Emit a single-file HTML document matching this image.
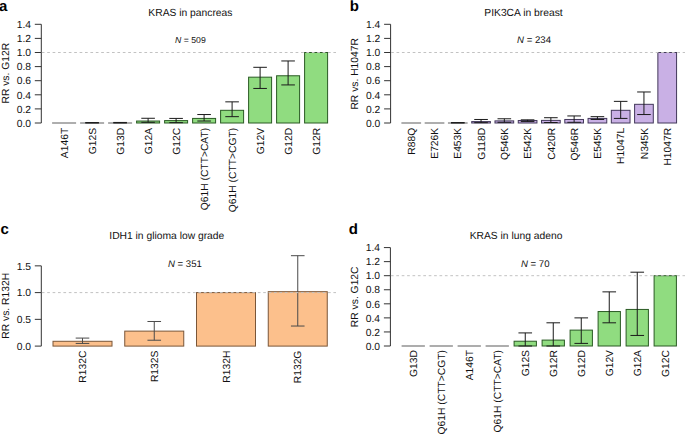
<!DOCTYPE html>
<html><head><meta charset="utf-8"><style>
html,body{margin:0;padding:0;background:#fff;width:685px;height:434px;overflow:hidden}
svg{display:block}
text{font-family:'Liberation Sans',sans-serif;text-rendering:geometricPrecision}
</style></head><body>
<svg width="685" height="434" viewBox="0 0 685 434">
<rect width="685" height="434" fill="#fff"/>
<text x="-1" y="10.7" font-size="15" text-anchor="start" fill="#000" font-weight="bold">a</text>
<text x="190.4" y="15.8" font-size="10.3" text-anchor="middle" fill="#111">KRAS in pancreas</text>
<text x="175.1" y="43" font-size="8.7" text-anchor="start" fill="#111"><tspan font-style="italic">N</tspan> = 509</text>
<line x1="41.3" y1="24.3" x2="41.3" y2="123" stroke="#333" stroke-width="1"/>
<line x1="34.8" y1="123" x2="41.3" y2="123" stroke="#333" stroke-width="1"/>
<text x="31" y="126.7" font-size="10.3" text-anchor="end" fill="#111">0.0</text>
<line x1="34.8" y1="108.9" x2="41.3" y2="108.9" stroke="#333" stroke-width="1"/>
<text x="31" y="112.6" font-size="10.3" text-anchor="end" fill="#111">0.2</text>
<line x1="34.8" y1="94.8" x2="41.3" y2="94.8" stroke="#333" stroke-width="1"/>
<text x="31" y="98.5" font-size="10.3" text-anchor="end" fill="#111">0.4</text>
<line x1="34.8" y1="80.7" x2="41.3" y2="80.7" stroke="#333" stroke-width="1"/>
<text x="31" y="84.4" font-size="10.3" text-anchor="end" fill="#111">0.6</text>
<line x1="34.8" y1="66.6" x2="41.3" y2="66.6" stroke="#333" stroke-width="1"/>
<text x="31" y="70.3" font-size="10.3" text-anchor="end" fill="#111">0.8</text>
<line x1="34.8" y1="52.5" x2="41.3" y2="52.5" stroke="#333" stroke-width="1"/>
<text x="31" y="56.2" font-size="10.3" text-anchor="end" fill="#111">1.0</text>
<line x1="34.8" y1="38.4" x2="41.3" y2="38.4" stroke="#333" stroke-width="1"/>
<text x="31" y="42.1" font-size="10.3" text-anchor="end" fill="#111">1.2</text>
<line x1="34.8" y1="24.3" x2="41.3" y2="24.3" stroke="#333" stroke-width="1"/>
<text x="31" y="28" font-size="10.3" text-anchor="end" fill="#111">1.4</text>
<text x="9" y="73.2" font-size="10.3" text-anchor="middle" fill="#111" transform="rotate(-90 9 73.2)">RR vs. G12R</text>
<line x1="52.1" y1="123" x2="76.1" y2="123" stroke="#777" stroke-width="1.2"/>
<text x="67.8" y="127.8" font-size="10.3" text-anchor="end" fill="#111" transform="rotate(-90 67.8 127.8)">A146T</text>
<line x1="80.1" y1="123" x2="104.1" y2="123" stroke="#777" stroke-width="1.2"/>
<line x1="92.1" y1="122.58" x2="92.1" y2="123" stroke="#1a1a1a" stroke-width="1"/>
<line x1="85.3" y1="122.58" x2="98.9" y2="122.58" stroke="#1a1a1a" stroke-width="1"/>
<line x1="85.3" y1="123" x2="98.9" y2="123" stroke="#1a1a1a" stroke-width="1"/>
<text x="95.8" y="127.8" font-size="10.3" text-anchor="end" fill="#111" transform="rotate(-90 95.8 127.8)">G12S</text>
<line x1="108.1" y1="123" x2="132.1" y2="123" stroke="#777" stroke-width="1.2"/>
<line x1="120.1" y1="122.44" x2="120.1" y2="123" stroke="#1a1a1a" stroke-width="1"/>
<line x1="113.3" y1="122.44" x2="126.9" y2="122.44" stroke="#1a1a1a" stroke-width="1"/>
<line x1="113.3" y1="123" x2="126.9" y2="123" stroke="#1a1a1a" stroke-width="1"/>
<text x="123.8" y="127.8" font-size="10.3" text-anchor="end" fill="#111" transform="rotate(-90 123.8 127.8)">G13D</text>
<rect x="136.6" y="121.03" width="23" height="1.97" fill="#90dc80" stroke="#2a5a24" stroke-width="1"/>
<line x1="148.1" y1="118.28" x2="148.1" y2="122.3" stroke="#1a1a1a" stroke-width="1"/>
<line x1="141.3" y1="118.28" x2="154.9" y2="118.28" stroke="#1a1a1a" stroke-width="1"/>
<line x1="141.3" y1="122.3" x2="154.9" y2="122.3" stroke="#1a1a1a" stroke-width="1"/>
<text x="151.8" y="127.8" font-size="10.3" text-anchor="end" fill="#111" transform="rotate(-90 151.8 127.8)">G12A</text>
<rect x="164.6" y="120.6" width="23" height="2.4" fill="#90dc80" stroke="#2a5a24" stroke-width="1"/>
<line x1="176.1" y1="118.42" x2="176.1" y2="122.65" stroke="#1a1a1a" stroke-width="1"/>
<line x1="169.3" y1="118.42" x2="182.9" y2="118.42" stroke="#1a1a1a" stroke-width="1"/>
<line x1="169.3" y1="122.65" x2="182.9" y2="122.65" stroke="#1a1a1a" stroke-width="1"/>
<text x="179.8" y="127.8" font-size="10.3" text-anchor="end" fill="#111" transform="rotate(-90 179.8 127.8)">G12C</text>
<rect x="192.6" y="118.42" width="23" height="4.58" fill="#90dc80" stroke="#2a5a24" stroke-width="1"/>
<line x1="204.1" y1="114.54" x2="204.1" y2="121.03" stroke="#1a1a1a" stroke-width="1"/>
<line x1="197.3" y1="114.54" x2="210.9" y2="114.54" stroke="#1a1a1a" stroke-width="1"/>
<line x1="197.3" y1="121.03" x2="210.9" y2="121.03" stroke="#1a1a1a" stroke-width="1"/>
<text x="207.8" y="127.8" font-size="10.3" text-anchor="end" fill="#111" transform="rotate(-90 207.8 127.8)">Q61H (CTT&gt;CAT)</text>
<rect x="220.6" y="110.31" width="23" height="12.69" fill="#90dc80" stroke="#2a5a24" stroke-width="1"/>
<line x1="232.1" y1="101.85" x2="232.1" y2="116.66" stroke="#1a1a1a" stroke-width="1"/>
<line x1="225.3" y1="101.85" x2="238.9" y2="101.85" stroke="#1a1a1a" stroke-width="1"/>
<line x1="225.3" y1="116.66" x2="238.9" y2="116.66" stroke="#1a1a1a" stroke-width="1"/>
<text x="235.8" y="127.8" font-size="10.3" text-anchor="end" fill="#111" transform="rotate(-90 235.8 127.8)">Q61H (CTT&gt;CGT)</text>
<rect x="248.6" y="77.17" width="23" height="45.83" fill="#90dc80" stroke="#2a5a24" stroke-width="1"/>
<line x1="260.1" y1="67.31" x2="260.1" y2="88.45" stroke="#1a1a1a" stroke-width="1"/>
<line x1="253.3" y1="67.31" x2="266.9" y2="67.31" stroke="#1a1a1a" stroke-width="1"/>
<line x1="253.3" y1="88.45" x2="266.9" y2="88.45" stroke="#1a1a1a" stroke-width="1"/>
<text x="263.8" y="127.8" font-size="10.3" text-anchor="end" fill="#111" transform="rotate(-90 263.8 127.8)">G12V</text>
<rect x="276.6" y="75.77" width="23" height="47.23" fill="#90dc80" stroke="#2a5a24" stroke-width="1"/>
<line x1="288.1" y1="60.96" x2="288.1" y2="84.93" stroke="#1a1a1a" stroke-width="1"/>
<line x1="281.3" y1="60.96" x2="294.9" y2="60.96" stroke="#1a1a1a" stroke-width="1"/>
<line x1="281.3" y1="84.93" x2="294.9" y2="84.93" stroke="#1a1a1a" stroke-width="1"/>
<text x="291.8" y="127.8" font-size="10.3" text-anchor="end" fill="#111" transform="rotate(-90 291.8 127.8)">G12D</text>
<rect x="304.6" y="52.5" width="23" height="70.5" fill="#90dc80" stroke="#2a5a24" stroke-width="1"/>
<text x="319.8" y="127.8" font-size="10.3" text-anchor="end" fill="#111" transform="rotate(-90 319.8 127.8)">G12R</text>
<line x1="41.8" y1="52.5" x2="336" y2="52.5" stroke="#c2c2c2" stroke-width="1" stroke-dasharray="2.7 2.7"/>
<text x="349.7" y="10.7" font-size="15" text-anchor="start" fill="#000" font-weight="bold">b</text>
<text x="523.5" y="15.8" font-size="10.3" text-anchor="middle" fill="#111">PIK3CA in breast</text>
<text x="517.1" y="42.7" font-size="9.6" text-anchor="start" fill="#111"><tspan font-style="italic">N</tspan> = 234</text>
<line x1="390.6" y1="24.3" x2="390.6" y2="123" stroke="#333" stroke-width="1"/>
<line x1="384.1" y1="123" x2="390.6" y2="123" stroke="#333" stroke-width="1"/>
<text x="380.3" y="126.7" font-size="10.3" text-anchor="end" fill="#111">0.0</text>
<line x1="384.1" y1="108.9" x2="390.6" y2="108.9" stroke="#333" stroke-width="1"/>
<text x="380.3" y="112.6" font-size="10.3" text-anchor="end" fill="#111">0.2</text>
<line x1="384.1" y1="94.8" x2="390.6" y2="94.8" stroke="#333" stroke-width="1"/>
<text x="380.3" y="98.5" font-size="10.3" text-anchor="end" fill="#111">0.4</text>
<line x1="384.1" y1="80.7" x2="390.6" y2="80.7" stroke="#333" stroke-width="1"/>
<text x="380.3" y="84.4" font-size="10.3" text-anchor="end" fill="#111">0.6</text>
<line x1="384.1" y1="66.6" x2="390.6" y2="66.6" stroke="#333" stroke-width="1"/>
<text x="380.3" y="70.3" font-size="10.3" text-anchor="end" fill="#111">0.8</text>
<line x1="384.1" y1="52.5" x2="390.6" y2="52.5" stroke="#333" stroke-width="1"/>
<text x="380.3" y="56.2" font-size="10.3" text-anchor="end" fill="#111">1.0</text>
<line x1="384.1" y1="38.4" x2="390.6" y2="38.4" stroke="#333" stroke-width="1"/>
<text x="380.3" y="42.1" font-size="10.3" text-anchor="end" fill="#111">1.2</text>
<line x1="384.1" y1="24.3" x2="390.6" y2="24.3" stroke="#333" stroke-width="1"/>
<text x="380.3" y="28" font-size="10.3" text-anchor="end" fill="#111">1.4</text>
<text x="358.3" y="73.8" font-size="10.3" text-anchor="middle" fill="#111" transform="rotate(-90 358.3 73.8)">RR vs. H1047R</text>
<line x1="401.4" y1="123" x2="421.1" y2="123" stroke="#777" stroke-width="1.2"/>
<text x="414.95" y="127.8" font-size="10.3" text-anchor="end" fill="#111" transform="rotate(-90 414.95 127.8)">R88Q</text>
<line x1="424.67" y1="123" x2="444.37" y2="123" stroke="#777" stroke-width="1.2"/>
<text x="438.22" y="127.8" font-size="10.3" text-anchor="end" fill="#111" transform="rotate(-90 438.22 127.8)">E726K</text>
<line x1="447.94" y1="123" x2="467.64" y2="123" stroke="#777" stroke-width="1.2"/>
<line x1="457.79" y1="122.58" x2="457.79" y2="123" stroke="#1a1a1a" stroke-width="1"/>
<line x1="450.99" y1="122.58" x2="464.59" y2="122.58" stroke="#1a1a1a" stroke-width="1"/>
<line x1="450.99" y1="123" x2="464.59" y2="123" stroke="#1a1a1a" stroke-width="1"/>
<text x="461.49" y="127.8" font-size="10.3" text-anchor="end" fill="#111" transform="rotate(-90 461.49 127.8)">E453K</text>
<rect x="471.71" y="121.59" width="18.7" height="1.41" fill="#c9b0e5" stroke="#42385a" stroke-width="1"/>
<line x1="481.06" y1="119.47" x2="481.06" y2="122.65" stroke="#1a1a1a" stroke-width="1"/>
<line x1="474.26" y1="119.47" x2="487.86" y2="119.47" stroke="#1a1a1a" stroke-width="1"/>
<line x1="474.26" y1="122.65" x2="487.86" y2="122.65" stroke="#1a1a1a" stroke-width="1"/>
<text x="484.76" y="127.8" font-size="10.3" text-anchor="end" fill="#111" transform="rotate(-90 484.76 127.8)">G118D</text>
<rect x="494.98" y="120.89" width="18.7" height="2.11" fill="#c9b0e5" stroke="#42385a" stroke-width="1"/>
<line x1="504.33" y1="118.77" x2="504.33" y2="122.3" stroke="#1a1a1a" stroke-width="1"/>
<line x1="497.53" y1="118.77" x2="511.13" y2="118.77" stroke="#1a1a1a" stroke-width="1"/>
<line x1="497.53" y1="122.3" x2="511.13" y2="122.3" stroke="#1a1a1a" stroke-width="1"/>
<text x="508.03" y="127.8" font-size="10.3" text-anchor="end" fill="#111" transform="rotate(-90 508.03 127.8)">Q546K</text>
<rect x="518.25" y="120.53" width="18.7" height="2.47" fill="#c9b0e5" stroke="#42385a" stroke-width="1"/>
<line x1="527.6" y1="119.83" x2="527.6" y2="121.59" stroke="#1a1a1a" stroke-width="1"/>
<line x1="520.8" y1="119.83" x2="534.4" y2="119.83" stroke="#1a1a1a" stroke-width="1"/>
<line x1="520.8" y1="121.59" x2="534.4" y2="121.59" stroke="#1a1a1a" stroke-width="1"/>
<text x="531.3" y="127.8" font-size="10.3" text-anchor="end" fill="#111" transform="rotate(-90 531.3 127.8)">E542K</text>
<rect x="541.52" y="120.39" width="18.7" height="2.61" fill="#c9b0e5" stroke="#42385a" stroke-width="1"/>
<line x1="550.87" y1="117.71" x2="550.87" y2="122.51" stroke="#1a1a1a" stroke-width="1"/>
<line x1="544.07" y1="117.71" x2="557.67" y2="117.71" stroke="#1a1a1a" stroke-width="1"/>
<line x1="544.07" y1="122.51" x2="557.67" y2="122.51" stroke="#1a1a1a" stroke-width="1"/>
<text x="554.57" y="127.8" font-size="10.3" text-anchor="end" fill="#111" transform="rotate(-90 554.57 127.8)">C420R</text>
<rect x="564.79" y="119.47" width="18.7" height="3.53" fill="#c9b0e5" stroke="#42385a" stroke-width="1"/>
<line x1="574.14" y1="115.95" x2="574.14" y2="122.3" stroke="#1a1a1a" stroke-width="1"/>
<line x1="567.34" y1="115.95" x2="580.94" y2="115.95" stroke="#1a1a1a" stroke-width="1"/>
<line x1="567.34" y1="122.3" x2="580.94" y2="122.3" stroke="#1a1a1a" stroke-width="1"/>
<text x="577.84" y="127.8" font-size="10.3" text-anchor="end" fill="#111" transform="rotate(-90 577.84 127.8)">Q546R</text>
<rect x="588.06" y="118.42" width="18.7" height="4.58" fill="#c9b0e5" stroke="#42385a" stroke-width="1"/>
<line x1="597.41" y1="116.66" x2="597.41" y2="119.47" stroke="#1a1a1a" stroke-width="1"/>
<line x1="590.61" y1="116.66" x2="604.21" y2="116.66" stroke="#1a1a1a" stroke-width="1"/>
<line x1="590.61" y1="119.47" x2="604.21" y2="119.47" stroke="#1a1a1a" stroke-width="1"/>
<text x="601.11" y="127.8" font-size="10.3" text-anchor="end" fill="#111" transform="rotate(-90 601.11 127.8)">E545K</text>
<rect x="611.33" y="110.31" width="18.7" height="12.69" fill="#c9b0e5" stroke="#42385a" stroke-width="1"/>
<line x1="620.68" y1="101.36" x2="620.68" y2="118.42" stroke="#1a1a1a" stroke-width="1"/>
<line x1="613.88" y1="101.36" x2="627.48" y2="101.36" stroke="#1a1a1a" stroke-width="1"/>
<line x1="613.88" y1="118.42" x2="627.48" y2="118.42" stroke="#1a1a1a" stroke-width="1"/>
<text x="624.38" y="127.8" font-size="10.3" text-anchor="end" fill="#111" transform="rotate(-90 624.38 127.8)">H1047L</text>
<rect x="634.6" y="104.32" width="18.7" height="18.68" fill="#c9b0e5" stroke="#42385a" stroke-width="1"/>
<line x1="643.95" y1="91.98" x2="643.95" y2="114.54" stroke="#1a1a1a" stroke-width="1"/>
<line x1="637.15" y1="91.98" x2="650.75" y2="91.98" stroke="#1a1a1a" stroke-width="1"/>
<line x1="637.15" y1="114.54" x2="650.75" y2="114.54" stroke="#1a1a1a" stroke-width="1"/>
<text x="647.65" y="127.8" font-size="10.3" text-anchor="end" fill="#111" transform="rotate(-90 647.65 127.8)">N345K</text>
<rect x="657.87" y="52.5" width="18.7" height="70.5" fill="#c9b0e5" stroke="#42385a" stroke-width="1"/>
<text x="670.92" y="127.8" font-size="10.3" text-anchor="end" fill="#111" transform="rotate(-90 670.92 127.8)">H1047R</text>
<line x1="391.1" y1="52.5" x2="685" y2="52.5" stroke="#c2c2c2" stroke-width="1" stroke-dasharray="2.7 2.7"/>
<text x="0.5" y="233.8" font-size="15" text-anchor="start" fill="#000" font-weight="bold">c</text>
<text x="166.8" y="238.7" font-size="10.3" text-anchor="middle" fill="#111">IDH1 in glioma low grade</text>
<text x="168" y="266.7" font-size="9.6" text-anchor="start" fill="#111"><tspan font-style="italic">N</tspan> = 351</text>
<line x1="41.3" y1="265.85" x2="41.3" y2="346.1" stroke="#333" stroke-width="1"/>
<line x1="34.8" y1="346.1" x2="41.3" y2="346.1" stroke="#333" stroke-width="1"/>
<text x="31" y="349.8" font-size="10.3" text-anchor="end" fill="#111">0.0</text>
<line x1="34.8" y1="319.35" x2="41.3" y2="319.35" stroke="#333" stroke-width="1"/>
<text x="31" y="323.05" font-size="10.3" text-anchor="end" fill="#111">0.5</text>
<line x1="34.8" y1="292.6" x2="41.3" y2="292.6" stroke="#333" stroke-width="1"/>
<text x="31" y="296.3" font-size="10.3" text-anchor="end" fill="#111">1.0</text>
<line x1="34.8" y1="265.85" x2="41.3" y2="265.85" stroke="#333" stroke-width="1"/>
<text x="31" y="269.55" font-size="10.3" text-anchor="end" fill="#111">1.5</text>
<text x="9" y="305.8" font-size="10.3" text-anchor="middle" fill="#111" transform="rotate(-90 9 305.8)">RR vs. R132H</text>
<rect x="53" y="341.29" width="59" height="4.81" fill="#fcc08c" stroke="#7a5638" stroke-width="1"/>
<line x1="82.5" y1="338.08" x2="82.5" y2="343.43" stroke="#4a4a4a" stroke-width="1"/>
<line x1="75.7" y1="338.08" x2="89.3" y2="338.08" stroke="#4a4a4a" stroke-width="1"/>
<line x1="75.7" y1="343.43" x2="89.3" y2="343.43" stroke="#4a4a4a" stroke-width="1"/>
<text x="86.2" y="350.6" font-size="10.3" text-anchor="end" fill="#111" transform="rotate(-90 86.2 350.6)">R132C</text>
<rect x="124.75" y="331.12" width="59" height="14.98" fill="#fcc08c" stroke="#7a5638" stroke-width="1"/>
<line x1="154.25" y1="321.49" x2="154.25" y2="340.22" stroke="#4a4a4a" stroke-width="1"/>
<line x1="147.45" y1="321.49" x2="161.05" y2="321.49" stroke="#4a4a4a" stroke-width="1"/>
<line x1="147.45" y1="340.22" x2="161.05" y2="340.22" stroke="#4a4a4a" stroke-width="1"/>
<text x="157.95" y="350.6" font-size="10.3" text-anchor="end" fill="#111" transform="rotate(-90 157.95 350.6)">R132S</text>
<rect x="196.5" y="292.6" width="59" height="53.5" fill="#fcc08c" stroke="#7a5638" stroke-width="1"/>
<text x="229.7" y="350.6" font-size="10.3" text-anchor="end" fill="#111" transform="rotate(-90 229.7 350.6)">R132H</text>
<rect x="268.25" y="291.69" width="59" height="54.41" fill="#fcc08c" stroke="#7a5638" stroke-width="1"/>
<line x1="297.75" y1="255.69" x2="297.75" y2="326.04" stroke="#4a4a4a" stroke-width="1"/>
<line x1="290.95" y1="255.69" x2="304.55" y2="255.69" stroke="#4a4a4a" stroke-width="1"/>
<line x1="290.95" y1="326.04" x2="304.55" y2="326.04" stroke="#4a4a4a" stroke-width="1"/>
<text x="301.45" y="350.6" font-size="10.3" text-anchor="end" fill="#111" transform="rotate(-90 301.45 350.6)">R132G</text>
<line x1="41.8" y1="292.6" x2="336" y2="292.6" stroke="#c2c2c2" stroke-width="1" stroke-dasharray="2.7 2.7"/>
<text x="348.8" y="233.6" font-size="15" text-anchor="start" fill="#000" font-weight="bold">d</text>
<text x="516" y="238.7" font-size="10.3" text-anchor="middle" fill="#111">KRAS in lung adeno</text>
<text x="521" y="267" font-size="9.6" text-anchor="start" fill="#111"><tspan font-style="italic">N</tspan> = 70</text>
<line x1="390.4" y1="247.58" x2="390.4" y2="346" stroke="#333" stroke-width="1"/>
<line x1="383.9" y1="346" x2="390.4" y2="346" stroke="#333" stroke-width="1"/>
<text x="380.1" y="349.7" font-size="10.3" text-anchor="end" fill="#111">0.0</text>
<line x1="383.9" y1="331.94" x2="390.4" y2="331.94" stroke="#333" stroke-width="1"/>
<text x="380.1" y="335.64" font-size="10.3" text-anchor="end" fill="#111">0.2</text>
<line x1="383.9" y1="317.88" x2="390.4" y2="317.88" stroke="#333" stroke-width="1"/>
<text x="380.1" y="321.58" font-size="10.3" text-anchor="end" fill="#111">0.4</text>
<line x1="383.9" y1="303.82" x2="390.4" y2="303.82" stroke="#333" stroke-width="1"/>
<text x="380.1" y="307.52" font-size="10.3" text-anchor="end" fill="#111">0.6</text>
<line x1="383.9" y1="289.76" x2="390.4" y2="289.76" stroke="#333" stroke-width="1"/>
<text x="380.1" y="293.46" font-size="10.3" text-anchor="end" fill="#111">0.8</text>
<line x1="383.9" y1="275.7" x2="390.4" y2="275.7" stroke="#333" stroke-width="1"/>
<text x="380.1" y="279.4" font-size="10.3" text-anchor="end" fill="#111">1.0</text>
<line x1="383.9" y1="261.64" x2="390.4" y2="261.64" stroke="#333" stroke-width="1"/>
<text x="380.1" y="265.34" font-size="10.3" text-anchor="end" fill="#111">1.2</text>
<line x1="383.9" y1="247.58" x2="390.4" y2="247.58" stroke="#333" stroke-width="1"/>
<text x="380.1" y="251.28" font-size="10.3" text-anchor="end" fill="#111">1.4</text>
<text x="358.3" y="296.8" font-size="10.3" text-anchor="middle" fill="#111" transform="rotate(-90 358.3 296.8)">RR vs. G12C</text>
<line x1="401.6" y1="346" x2="424.9" y2="346" stroke="#777" stroke-width="1.2"/>
<text x="416.95" y="350" font-size="10.3" text-anchor="end" fill="#111" transform="rotate(-90 416.95 350)">G13D</text>
<line x1="429.6" y1="346" x2="452.9" y2="346" stroke="#777" stroke-width="1.2"/>
<text x="444.95" y="350" font-size="10.3" text-anchor="end" fill="#111" transform="rotate(-90 444.95 350)">Q61H (CTT&gt;CGT)</text>
<line x1="457.6" y1="346" x2="480.9" y2="346" stroke="#777" stroke-width="1.2"/>
<text x="472.95" y="350" font-size="10.3" text-anchor="end" fill="#111" transform="rotate(-90 472.95 350)">A146T</text>
<line x1="485.6" y1="346" x2="508.9" y2="346" stroke="#777" stroke-width="1.2"/>
<text x="500.95" y="350" font-size="10.3" text-anchor="end" fill="#111" transform="rotate(-90 500.95 350)">Q61H (CTT&gt;CAT)</text>
<rect x="514.1" y="341.22" width="22.3" height="4.78" fill="#90dc80" stroke="#2a5a24" stroke-width="1"/>
<line x1="525.25" y1="332.92" x2="525.25" y2="346" stroke="#1a1a1a" stroke-width="1"/>
<line x1="518.45" y1="332.92" x2="532.05" y2="332.92" stroke="#1a1a1a" stroke-width="1"/>
<line x1="518.45" y1="346" x2="532.05" y2="346" stroke="#1a1a1a" stroke-width="1"/>
<text x="528.95" y="350" font-size="10.3" text-anchor="end" fill="#111" transform="rotate(-90 528.95 350)">G12S</text>
<rect x="542.1" y="340.09" width="22.3" height="5.91" fill="#90dc80" stroke="#2a5a24" stroke-width="1"/>
<line x1="553.25" y1="322.8" x2="553.25" y2="346" stroke="#1a1a1a" stroke-width="1"/>
<line x1="546.45" y1="322.8" x2="560.05" y2="322.8" stroke="#1a1a1a" stroke-width="1"/>
<line x1="546.45" y1="346" x2="560.05" y2="346" stroke="#1a1a1a" stroke-width="1"/>
<text x="556.95" y="350" font-size="10.3" text-anchor="end" fill="#111" transform="rotate(-90 556.95 350)">G12R</text>
<rect x="570.1" y="330.11" width="22.3" height="15.89" fill="#90dc80" stroke="#2a5a24" stroke-width="1"/>
<line x1="581.25" y1="317.88" x2="581.25" y2="343.4" stroke="#1a1a1a" stroke-width="1"/>
<line x1="574.45" y1="317.88" x2="588.05" y2="317.88" stroke="#1a1a1a" stroke-width="1"/>
<line x1="574.45" y1="343.4" x2="588.05" y2="343.4" stroke="#1a1a1a" stroke-width="1"/>
<text x="584.95" y="350" font-size="10.3" text-anchor="end" fill="#111" transform="rotate(-90 584.95 350)">G12D</text>
<rect x="598.1" y="311.55" width="22.3" height="34.45" fill="#90dc80" stroke="#2a5a24" stroke-width="1"/>
<line x1="609.25" y1="291.87" x2="609.25" y2="322.8" stroke="#1a1a1a" stroke-width="1"/>
<line x1="602.45" y1="291.87" x2="616.05" y2="291.87" stroke="#1a1a1a" stroke-width="1"/>
<line x1="602.45" y1="322.8" x2="616.05" y2="322.8" stroke="#1a1a1a" stroke-width="1"/>
<text x="612.95" y="350" font-size="10.3" text-anchor="end" fill="#111" transform="rotate(-90 612.95 350)">G12V</text>
<rect x="626.1" y="309.44" width="22.3" height="36.56" fill="#90dc80" stroke="#2a5a24" stroke-width="1"/>
<line x1="637.25" y1="272.19" x2="637.25" y2="335.45" stroke="#1a1a1a" stroke-width="1"/>
<line x1="630.45" y1="272.19" x2="644.05" y2="272.19" stroke="#1a1a1a" stroke-width="1"/>
<line x1="630.45" y1="335.45" x2="644.05" y2="335.45" stroke="#1a1a1a" stroke-width="1"/>
<text x="640.95" y="350" font-size="10.3" text-anchor="end" fill="#111" transform="rotate(-90 640.95 350)">G12A</text>
<rect x="654.1" y="275.7" width="22.3" height="70.3" fill="#90dc80" stroke="#2a5a24" stroke-width="1"/>
<text x="668.95" y="350" font-size="10.3" text-anchor="end" fill="#111" transform="rotate(-90 668.95 350)">G12C</text>
<line x1="390.9" y1="275.7" x2="685" y2="275.7" stroke="#c2c2c2" stroke-width="1" stroke-dasharray="2.7 2.7"/>
</svg>
</body></html>
